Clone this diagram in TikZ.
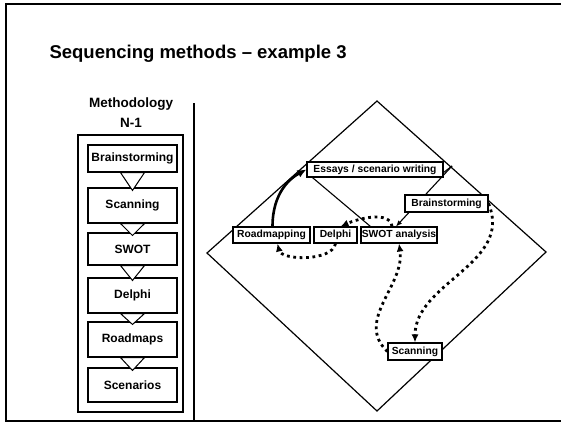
\documentclass[tikz,border=0pt]{standalone}
\usepackage{fontspec}
\setmainfont{Liberation Sans}
\usetikzlibrary{arrows.meta,backgrounds}

\begin{document}
\begin{tikzpicture}[x=1pt,y=-1pt,
  methbox/.style={draw,line width=1.1pt,fill=white,inner sep=0pt,minimum width=89pt,
    font=\fontsize{12}{12}\selectfont\bfseries},
  mapbox/.style={draw,line width=1.1pt,fill=white,inner sep=0pt,minimum height=16pt,
    font=\fontsize{10.3}{10.3}\selectfont\bfseries},
  flowtri/.style={draw,line width=1pt,fill=white,line join=miter},
  dotarrow/.style={line width=2.8pt,dash pattern=on 2.8pt off 3.6pt,-{Latex[length=8pt,width=7pt]}},
  thickarrow/.style={line width=2.6pt,-{Latex[length=9pt,width=8pt]}}]
\useasboundingbox (0,0) rectangle (561,426);
% page frame, title and divider
\draw[line width=1.8pt] (561,4) -- (6,4) -- (6,421) -- (561,421);
\draw[line width=2.6pt] (194,103) -- (194,421);
\node[anchor=west,font=\fontsize{18.5}{18.5}\selectfont\bfseries] (title) at (46,54) {Sequencing methods -- example 3};
% left column: the N-1 method chain
\node[align=center,font=\fontsize{13.5}{20}\selectfont\bfseries] (methhead) at (131,113) {Methodology\\N-1};
\draw[line width=1.2pt] (78,135) rectangle (183,412);
\node[methbox,minimum height=27pt] (mbrain) at (132.5,158.5) {Brainstorming};
\node[methbox,minimum height=35pt] (mscan) at (132.5,205.5) {Scanning};
\node[methbox,minimum height=32pt] (mswot) at (132.5,249) {SWOT};
\node[methbox,minimum height=35pt] (mdelphi) at (132.5,295.5) {Delphi};
\node[methbox,minimum height=35pt] (mroad) at (132.5,339.5) {Roadmaps};
\node[methbox,minimum height=34pt] (mscen) at (132.5,385) {Scenarios};
\draw[flowtri] ([xshift=-12pt]mbrain.south) -- ([xshift=12pt]mbrain.south) -- ([yshift=-3pt]mscan.north) -- cycle;
\draw[flowtri] ([xshift=-12pt]mscan.south) -- ([xshift=12pt]mscan.south) -- ([yshift=-3pt]mswot.north) -- cycle;
\draw[flowtri] ([xshift=-12pt]mswot.south) -- ([xshift=12pt]mswot.south) -- ([yshift=-3pt]mdelphi.north) -- cycle;
\draw[flowtri] ([xshift=-12pt]mdelphi.south) -- ([xshift=12pt]mdelphi.south) -- ([yshift=-3pt]mroad.north) -- cycle;
\draw[flowtri] ([xshift=-12pt]mroad.south) -- ([xshift=12pt]mroad.south) -- ([yshift=-3pt]mscen.north) -- cycle;
% right side: diamond with the reordered methods
\draw[line width=1.2pt] (377,101) -- (546,252) -- (377,411) -- (207,253) -- cycle;
\coordinate (edge) at (452,166);
\node[mapbox,minimum width=136pt,minimum height=15pt] (essays) at (375,169.5) {Essays / scenario writing};
\node[mapbox,minimum width=83pt,minimum height=17pt] (brain) at (446.5,203.5) {Brainstorming};
\node[mapbox,minimum width=77pt] (road) at (271.5,235) {Roadmapping};
\node[mapbox,minimum width=43pt] (delphi) at (335.5,235) {Delphi};
\node[mapbox,minimum width=76pt] (swot) at (399,235) {SWOT analysis};
\node[mapbox,minimum width=54pt,minimum height=17pt] (scan) at (415,351.5) {Scanning};
\begin{scope}[on background layer]
\draw[line width=1.1pt] ([yshift=-3pt]essays.east) -- (edge);
\draw[line width=1.1pt,-{Latex[length=6pt,width=5pt]}] (edge) -- ([xshift=-3pt]swot.north);
\draw[line width=1.1pt] ([xshift=6pt]essays.south west) -- ([xshift=10pt]swot.north west);
\end{scope}
\draw[thickarrow] ([xshift=1pt]road.north) .. controls +(0,-35) and +(-15,8) .. (essays.west);
\draw[dotarrow] ([xshift=-7pt]swot.north) .. controls +(-2,-16) and +(18,-8) .. ([xshift=5pt]delphi.north);
\draw[dotarrow] (delphi.south) .. controls +(-3,18) and +(4,17) .. ([xshift=6pt]road.south);
\draw[dotarrow] (scan.west) .. controls +(-33,-31) and +(6,42) .. (swot.south);
\draw[dotarrow] (brain.east) .. controls +(25,60) and +(0,-60) .. (scan.north);
\end{tikzpicture}
\end{document}
